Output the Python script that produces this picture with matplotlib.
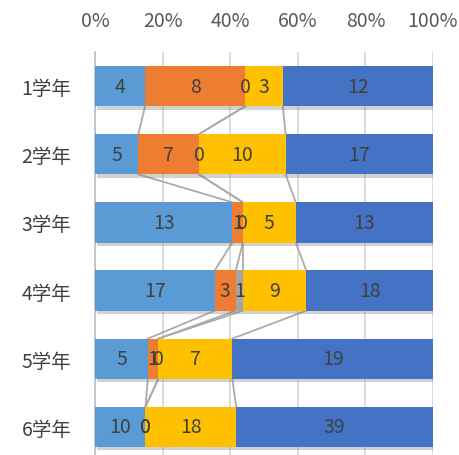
import matplotlib
matplotlib.use("Agg")
import matplotlib.pyplot as plt
import matplotlib.patheffects as pe
import numpy as np

plt.rcParams["font.family"] = ["Noto Sans CJK JP", "DejaVu Sans"]

grades = ["1学年", "2学年", "3学年", "4学年", "5学年", "6学年"]
s1 = [4, 5, 13, 17, 5, 10]
s2 = [8, 7, 1, 3, 1, 0]
s3 = [0, 0, 0, 1, 0, 0]
s4 = [3, 10, 5, 9, 7, 18]
s5 = [12, 17, 13, 18, 19, 39]
series = [s1, s2, s3, s4, s5]
colors = ["#5B9BD5", "#ED7D31", "#A5A5A5", "#FFC000", "#4472C4"]

data = np.array(series, dtype=float)
share = data / data.sum(axis=0)
cum = np.cumsum(share, axis=0)
left = cum - share

fig = plt.figure(figsize=(4.6, 4.56), dpi=100)
ax = fig.add_axes([95 / 460, -6 / 456, 338 / 460, 409 / 456])

y = np.arange(len(grades))
bh = 0.59
shadow = [pe.SimplePatchShadow(offset=(1.5, -2.5), shadow_rgbFace="#7F7F7F", alpha=0.35), pe.Normal()]
for k in range(len(series)):
    ax.barh(y, share[k], left=left[k], height=bh, color=colors[k],
            edgecolor="none", zorder=3, path_effects=shadow)

# series lines between bars
for k in range(len(series) - 1):
    for i in range(len(grades) - 1):
        ax.plot([cum[k, i], cum[k, i + 1]], [i + bh / 2, i + 1 - bh / 2],
                color="#ABABAB", lw=1.3, zorder=2)

# data labels
for k in range(len(series)):
    for i in range(len(grades)):
        ax.text(left[k, i] + share[k, i] / 2, i, str(series[k][i]),
                ha="center", va="center", fontsize=14, color="#404040", zorder=5)

ax.set_xlim(0, 1)
ax.set_ylim(5.5, -0.5)
ax.set_yticks(y)
ax.set_yticklabels(grades, fontsize=14, color="#404040")
ax.set_xticks(np.linspace(0, 1, 6))
ax.set_xticklabels(["0%", "20%", "40%", "60%", "80%", "100%"], fontsize=14, color="#595959")
ax.xaxis.tick_top()
ax.tick_params(axis="x", length=0, pad=15)
ax.tick_params(axis="y", length=0, pad=17)
ax.grid(axis="x", color="#D9D9D9", lw=1.3, zorder=0)
for side in ["top", "right", "bottom"]:
    ax.spines[side].set_visible(False)
ax.spines["left"].set_color("#BFBFBF")
ax.spines["left"].set_linewidth(1.2)

fig.savefig("out.png", dpi=100)
